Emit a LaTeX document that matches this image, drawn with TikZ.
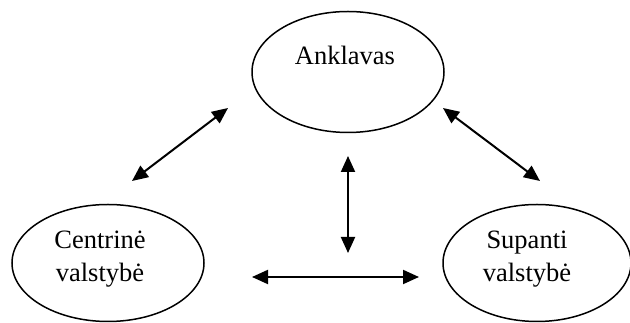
\documentclass[tikz,border=0pt]{standalone}
\usepackage{fontspec}
\setmainfont{Liberation Serif}
\usetikzlibrary{arrows.meta,shapes.geometric}
\begin{document}
\begin{tikzpicture}[x=1pt,y=1pt,
  oval/.style={draw,ellipse,line width=1.5pt,inner sep=0pt},
  lbl/.style={font=\fontsize{26.5}{33}\selectfont,align=center,inner sep=0pt},
  link/.style={line width=2pt,{Triangle[length=16pt,width=14pt]}-{Triangle[length=16pt,width=14pt]}}]
\useasboundingbox (0,0) rectangle (630,323);
\node[oval,minimum width=192pt,minimum height=121pt] (ank) at (348,251) {};
\node[oval,minimum width=192pt,minimum height=117pt] (cen) at (108,60) {};
\node[oval,minimum width=188pt,minimum height=117pt] (sup) at (537,60) {};
\node[lbl] (ankt) at (345,268) {Anklavas};
\node[lbl] (cent) at (100,64) {Centrinė\\valstybė};
\node[lbl] (supt) at (527,64) {Supanti\\valstybė};
\coordinate (a1s) at (132,142);
\coordinate (a1e) at (228,215);
\coordinate (a2s) at (443,215);
\coordinate (a2e) at (540,142);
\coordinate (a3s) at (348,167);
\coordinate (a3e) at (348,70);
\coordinate (a4s) at (252,46);
\coordinate (a4e) at (419,46);
\draw[link] (a1s) -- (a1e);
\draw[link] (a2s) -- (a2e);
\draw[link] (a3s) -- (a3e);
\draw[link] (a4s) -- (a4e);
\end{tikzpicture}
\end{document}
